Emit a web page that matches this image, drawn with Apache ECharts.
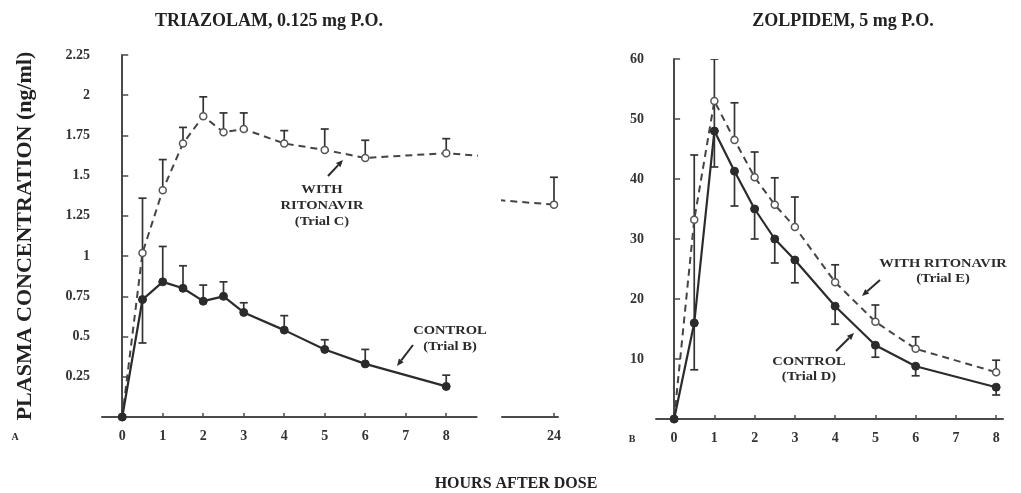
<!DOCTYPE html>
<html>
<head>
<meta charset="utf-8">
<script src="https://cdn.jsdelivr.net/npm/echarts@6/dist/echarts.min.js"></script>
<style>html,body{margin:0;padding:0;background:#fff}#c{width:1021px;height:493px}</style>
</head>
<body>
<div id="c"></div>
<script>
// ---------- DATA ----------
const triHours = [0, 0.5, 1, 1.5, 2, 2.5, 3, 4, 5, 6, 8, 24];
const triRit   = [0, 1.02, 1.41, 1.70, 1.87, 1.77, 1.79, 1.70, 1.66, 1.61, 1.64, 1.32];
const triRitHi = [0, 1.36, 1.60, 1.80, 1.99, 1.89, 1.89, 1.78, 1.79, 1.72, 1.73, 1.49];
const triRitLo = [0, 0.73, 1.41, 1.70, 1.87, 1.77, 1.79, 1.70, 1.66, 1.61, 1.64, 1.32];
const triCtl   = [0, 0.73, 0.84, 0.80, 0.72, 0.75, 0.65, 0.54, 0.42, 0.33, 0.19];
const triCtlHi = [0, 0.73, 1.06, 0.94, 0.82, 0.84, 0.71, 0.63, 0.48, 0.42, 0.26];
const triCtlLo = [0, 0.46, 0.84, 0.80, 0.72, 0.75, 0.65, 0.54, 0.42, 0.33, 0.19];

const zolHours = [0, 0.5, 1, 1.5, 2, 2.5, 3, 4, 5, 6, 8];
const zolRit   = [0, 33.2, 53.0, 46.5, 40.3, 35.7, 32.0, 22.8, 16.2, 11.7, 7.8];
const zolRitHi = [0, 44.0, 60.0, 52.7, 44.5, 40.2, 37.0, 25.7, 19.0, 13.7, 9.8];
const zolRitLo = [0, 16.0, 48.0, 46.5, 40.3, 35.7, 32.0, 22.8, 16.2, 11.7, 7.8];
const zolCtl   = [0, 16.0, 48.0, 41.3, 35.0, 30.0, 26.5, 18.8, 12.3, 8.8, 5.3];
const zolCtlHi = [0, 16.0, 48.0, 41.3, 35.0, 30.0, 26.5, 18.8, 12.3, 8.8, 5.3];
const zolCtlLo = [0, 8.2, 42.0, 35.5, 30.0, 26.0, 22.7, 15.8, 10.3, 7.2, 4.0];

const hourTicks = [0, 1, 2, 3, 4, 5, 6, 7, 8];
const lateTicks = [24];

const titleLeft = 'TRIAZOLAM, 0.125 mg P.O.';
const titleRight = 'ZOLPIDEM, 5 mg P.O.';
const xName = 'HOURS AFTER DOSE';
const yName = 'PLASMA CONCENTRATION (ng/ml)';
const noteTriRit = 'WITH\nRITONAVIR\n(Trial C)';
const noteTriCtl = 'CONTROL\n(Trial B)';
const noteZolRit = 'WITH RITONAVIR\n(Trial E)';
const noteZolCtl = 'CONTROL\n(Trial D)';

// ---------- HELPERS ----------
const FONT = 'Liberation Serif';
const INK = '#2b2b2b';
const AX = '#4a4a4a';
function pairs(xs, ys) { return ys.map((y, i) => [xs[i], y]); }
function errRows(xs, lo, hi, m) { return m.map((v, i) => [xs[i], lo[i], hi[i], v]); }

function errorBar(params, api) {
  const x = api.value(0), lo = api.value(1), hi = api.value(2), m = api.value(3);
  if (hi === lo) return null;
  const t = api.coord([x, hi]), b = api.coord([x, lo]);
  const cap = 4;
  const st = { stroke: '#333', lineWidth: 1.7 };
  const ch = [{ type: 'line', shape: { x1: t[0], y1: t[1], x2: b[0], y2: b[1] }, style: st }];
  if (hi !== m) ch.push({ type: 'line', shape: { x1: t[0] - cap, y1: t[1], x2: t[0] + cap, y2: t[1] }, style: st });
  if (lo !== m) ch.push({ type: 'line', shape: { x1: b[0] - cap, y1: b[1], x2: b[0] + cap, y2: b[1] }, style: st });
  return { type: 'group', children: ch };
}

function arrow(x1, y1, x2, y2) {
  const a = Math.atan2(y2 - y1, x2 - x1), L = 7, W = 3;
  const bx = x2 - L * Math.cos(a), by = y2 - L * Math.sin(a);
  const px = -Math.sin(a) * W, py = Math.cos(a) * W;
  return [
    { type: 'line', shape: { x1, y1, x2: bx, y2: by }, style: { stroke: INK, lineWidth: 2 } },
    { type: 'polygon', shape: { points: [[x2, y2], [bx + px, by + py], [bx - px, by - py]] }, style: { fill: INK } }
  ];
}
function note(x, y, text, lh) {
  return { type: 'text', x, y, scaleX: 1.12, style: { text, fill: INK, font: 'bold 13px "' + FONT + '"', align: 'center', verticalAlign: 'middle', lineHeight: lh } };
}

const labelStyle = { fontFamily: FONT, fontWeight: 'bold', fontSize: 14, color: '#333' };

function xAxisCfg(grid, min, max, ticks) {
  return {
    type: 'value', gridIndex: grid, min, max,
    axisLine: { show: true, onZero: false, lineStyle: { color: AX, width: 2 } },
    axisTick: { show: true, inside: true, length: 4, customValues: ticks, lineStyle: { color: AX, width: 1.5 } },
    axisLabel: Object.assign({ customValues: ticks, margin: 12 }, labelStyle),
    splitLine: { show: false }
  };
}
function yAxisCfg(grid, max, interval, extra) {
  return Object.assign({
    type: 'value', gridIndex: grid, min: 0, max, interval,
    axisLine: { show: true, lineStyle: { color: AX, width: 2 } },
    axisTick: { show: true, inside: true, length: 6, lineStyle: { color: AX, width: 1.5 } },
    axisLabel: Object.assign({ margin: 12, formatter: v => v === 0 ? '' : String(v) }, labelStyle),
    splitLine: { show: false }
  }, extra || {});
}

const dashedLine = { color: '#444', width: 2, type: [7, 5] };
const solidLine = { color: INK, width: 2.2 };
const openSym = { color: '#fff', borderColor: '#555', borderWidth: 1.5 };
const fillSym = { color: INK, borderColor: INK };
const titleText = { fontFamily: FONT, fontWeight: 'bold', fontSize: 18, color: '#222' };

const chart = echarts.init(document.getElementById('c'), null, { renderer: 'canvas' });
chart.setOption({
  backgroundColor: '#fff',
  animation: false,
  title: [
    { text: titleLeft, left: 264, top: 7, textAlign: 'center', textStyle: titleText },
    { text: titleRight, left: 838, top: 7, textAlign: 'center', textStyle: titleText },
    { text: xName, left: 511, top: 471, textAlign: 'center', textStyle: Object.assign({}, titleText, { fontSize: 16 }) }
  ],
  grid: [
    { left: 102, top: 55, width: 374.6, height: 362 },
    { left: 502, top: 55, width: 56, height: 362 },
    { left: 656, top: 59, width: 347, height: 360 }
  ],
  xAxis: [
    xAxisCfg(0, -0.5, 8.75, hourTicks),
    xAxisCfg(1, 22.7, 24.1, lateTicks),
    xAxisCfg(2, -0.45, 8.17, hourTicks)
  ],
  yAxis: [
    yAxisCfg(0, 2.25, 0.25, {
      name: yName, nameLocation: 'middle', nameRotate: 90, nameGap: 66,
      nameTextStyle: { fontFamily: FONT, fontWeight: 'bold', fontSize: 22, color: '#222' }
    }),
    yAxisCfg(1, 2.25, 0.25, { show: false }),
    yAxisCfg(2, 60, 10)
  ],
  series: [
    { type: 'custom', xAxisIndex: 0, yAxisIndex: 0, clip: true, z: 2, renderItem: errorBar, encode: { x: 0, y: [1, 2] }, data: errRows(triHours, triCtlLo, triCtlHi, triCtl) },
    { type: 'custom', xAxisIndex: 0, yAxisIndex: 0, clip: true, z: 2, renderItem: errorBar, encode: { x: 0, y: [1, 2] }, data: errRows(triHours, triRitLo, triRitHi, triRit) },
    { type: 'custom', xAxisIndex: 1, yAxisIndex: 1, clip: true, z: 2, renderItem: errorBar, encode: { x: 0, y: [1, 2] }, data: errRows(triHours, triRitLo, triRitHi, triRit) },
    { type: 'line', xAxisIndex: 0, yAxisIndex: 0, z: 3, data: pairs(triHours, triRit), symbol: 'circle', symbolSize: 7, lineStyle: dashedLine, itemStyle: openSym },
    { type: 'line', xAxisIndex: 1, yAxisIndex: 1, z: 3, data: pairs(triHours, triRit), symbol: 'circle', symbolSize: 7, lineStyle: dashedLine, itemStyle: openSym },
    { type: 'line', xAxisIndex: 0, yAxisIndex: 0, z: 4, data: pairs(triHours, triCtl), symbol: 'circle', symbolSize: 8, lineStyle: solidLine, itemStyle: fillSym },

    { type: 'custom', xAxisIndex: 2, yAxisIndex: 2, clip: true, z: 2, renderItem: errorBar, encode: { x: 0, y: [1, 2] }, data: errRows(zolHours, zolCtlLo, zolCtlHi, zolCtl) },
    { type: 'custom', xAxisIndex: 2, yAxisIndex: 2, clip: true, z: 2, renderItem: errorBar, encode: { x: 0, y: [1, 2] }, data: errRows(zolHours, zolRitLo, zolRitHi, zolRit) },
    { type: 'line', xAxisIndex: 2, yAxisIndex: 2, z: 3, data: pairs(zolHours, zolRit), symbol: 'circle', symbolSize: 7, lineStyle: dashedLine, itemStyle: openSym },
    { type: 'line', xAxisIndex: 2, yAxisIndex: 2, z: 4, data: pairs(zolHours, zolCtl), symbol: 'circle', symbolSize: 8, lineStyle: solidLine, itemStyle: fillSym }
  ],
  graphic: [
    note(322, 206, noteTriRit, 16),
    note(450, 339, noteTriCtl, 16),
    note(943, 271, noteZolRit, 15),
    note(809, 369, noteZolCtl, 15),
    ...arrow(328, 176, 343, 160),
    ...arrow(413, 345, 397, 366),
    ...arrow(880, 280, 862, 296),
    ...arrow(836, 351, 854, 333),
    { type: 'text', x: 15, y: 437, style: { text: 'A', fill: INK, font: 'bold 10px "' + FONT + '"', align: 'center', verticalAlign: 'middle' } },
    { type: 'text', x: 632, y: 439, style: { text: 'B', fill: INK, font: 'bold 10px "' + FONT + '"', align: 'center', verticalAlign: 'middle' } }
  ]
});
</script>
</body>
</html>
